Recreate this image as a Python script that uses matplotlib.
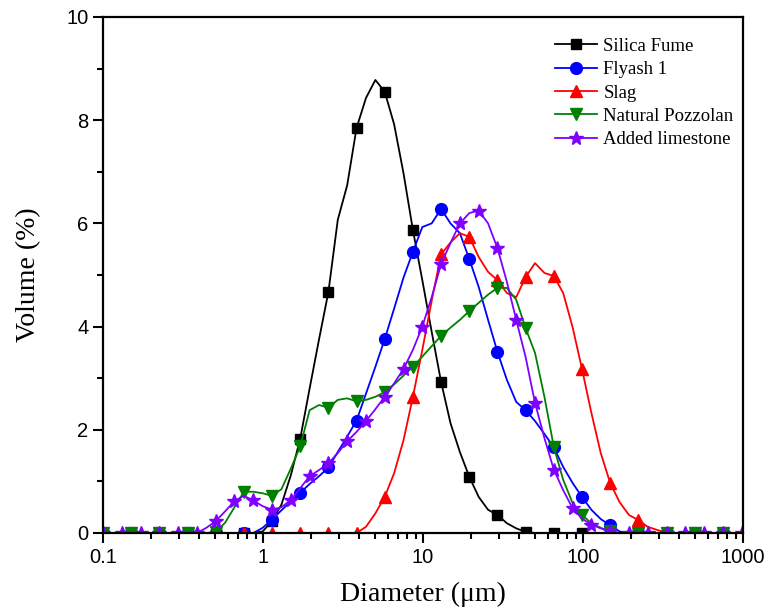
import matplotlib
matplotlib.use("Agg")
import matplotlib.pyplot as plt
from matplotlib.ticker import FixedLocator, LogLocator, NullFormatter, MultipleLocator

# particle size grid (um)
diameter = [0.100, 0.1145, 0.1310, 0.150, 0.1717, 0.1966, 0.225, 0.2576, 0.2948, 0.3375,
            0.3863, 0.4422, 0.5063, 0.5796, 0.6634, 0.7594, 0.8693, 0.9951, 1.139, 1.304,
            1.493, 1.709, 1.956, 2.239, 2.563, 2.934, 3.359, 3.844, 4.401, 5.038,
            5.767, 6.601, 7.556, 8.650, 9.902, 11.33, 12.97, 14.85, 17.00, 19.46,
            22.28, 25.51, 29.19, 33.42, 38.26, 43.79, 50.13, 57.39, 65.69, 75.20,
            86.08, 98.54, 112.8, 129.1, 147.8, 169.2, 193.7, 221.7, 253.8, 290.5,
            332.6, 380.7, 435.8, 498.9, 571.1, 653.7, 748.3, 856.6, 980.6]

silica_fume = [0] * 17 + [0.03, 0.23, 0.55, 1.12, 1.83, 2.8, 3.75, 4.67, 6.07, 6.74,
                          7.85, 8.43, 8.78, 8.55, 7.92, 6.97, 5.87, 4.9, 3.9, 2.93,
                          2.13, 1.57, 1.09, 0.7, 0.45, 0.35, 0.19, 0.09, 0.02] + [0] * 23

flyash = [0] * 17 + [0.1, 0.26, 0.44, 0.61, 0.78, 0.95, 1.1, 1.27, 1.57, 1.87,
                     2.18, 2.7, 3.22, 3.76, 4.35, 4.95, 5.45, 5.93, 6.0, 6.28,
                     6.0, 5.81, 5.31, 4.77, 4.13, 3.51, 2.97, 2.54, 2.38, 2.17,
                     1.92, 1.66, 1.28, 0.97, 0.70, 0.45, 0.27, 0.15, 0.03] + [0] * 13

slag = [0] * 28 + [0.12, 0.38, 0.70, 1.16, 1.80, 2.64, 3.55, 4.5, 5.4, 5.63,
                   5.81, 5.74, 5.35, 5.06, 4.9, 4.65, 4.57, 4.96, 5.23, 5.04,
                   4.98, 4.65, 3.99, 3.18, 2.33, 1.55, 0.97, 0.6, 0.35, 0.25,
                   0.12, 0.06] + [0] * 9

pozzolan = [0] * 12 + [0.02, 0.2, 0.5, 0.8, 0.8, 0.77, 0.72, 0.85, 1.25, 1.68,
                       2.38, 2.48, 2.43, 2.58, 2.61, 2.55, 2.58, 2.64, 2.73, 2.88,
                       3.05, 3.22, 3.42, 3.62, 3.82, 3.98, 4.13, 4.3, 4.46, 4.62,
                       4.75, 4.75, 4.52, 3.97, 3.49, 2.64, 1.67, 1.03, 0.58, 0.35,
                       0.19, 0.1, 0.03] + [0] * 14

limestone = [0] * 11 + [0.1, 0.23, 0.42, 0.62, 0.72, 0.63, 0.52, 0.45, 0.5, 0.64,
                        0.87, 1.1, 1.22, 1.35, 1.55, 1.78, 1.96, 2.17, 2.4, 2.64,
                        2.9, 3.18, 3.55, 4.0, 4.57, 5.21, 5.62, 6.0, 6.2, 6.25,
                        6.0, 5.52, 4.87, 4.13, 3.41, 2.52, 1.84, 1.23, 0.83, 0.48,
                        0.28, 0.16, 0.09, 0.03] + [0] * 14

fig = plt.figure(figsize=(7.7, 6.13), dpi=100)
ax = fig.add_axes([103 / 770, 80 / 613, 640 / 770, 516 / 613])

ax.plot(diameter, silica_fume, color="black", lw=1.3, marker="s", ms=7.5, markevery=3, label="Silica Fume")
ax.plot(diameter, flyash, color="#0000ff", lw=1.3, marker="o", ms=8.5, markevery=3, label="Flyash 1")
ax.plot(diameter, slag, color="#ff0000", lw=1.3, marker="^", ms=9, markevery=3, label="Slag")
ax.plot(diameter, pozzolan, color="#008000", lw=1.3, marker="v", ms=9, markevery=3, label="Natural Pozzolan")
ax.plot(diameter, limestone, color="#8000ff", lw=1.3, marker="*", ms=10, markevery=2, label="Added limestone")

ax.set_xscale("log")
ax.set_xlim(0.1, 1000)
ax.set_ylim(0, 10)

ax.xaxis.set_major_locator(FixedLocator([0.1, 1, 10, 100, 1000]))
ax.set_xticklabels(["0.1", "1", "10", "100", "1000"])
ax.xaxis.set_minor_locator(LogLocator(base=10, subs=range(2, 10)))
ax.xaxis.set_minor_formatter(NullFormatter())
ax.yaxis.set_major_locator(MultipleLocator(2))
ax.yaxis.set_minor_locator(MultipleLocator(1))

for lbl in ax.get_xticklabels() + ax.get_yticklabels():
    lbl.set_fontfamily("Liberation Sans")
    lbl.set_fontsize(14.5)

ax.tick_params(which="major", direction="out", length=7, width=1.5, top=False, right=False)
ax.tick_params(which="minor", direction="out", length=4, width=1.5, top=False, right=False)
for s in ax.spines.values():
    s.set_linewidth(1.6)

ax.set_xlabel("Diameter (\u03bcm)", fontfamily="Liberation Serif", fontsize=20, labelpad=11)
ax.set_ylabel("Volume (%)", fontfamily="Liberation Serif", fontsize=20, labelpad=18)

ax.legend(loc="upper left", bbox_to_anchor=(0.695, 0.974), frameon=False,
          prop={"family": "Liberation Serif", "size": 13.5},
          handlelength=2.24, handletextpad=0.32, labelspacing=0.33, borderaxespad=0)

fig.savefig("out.png", dpi=100)
